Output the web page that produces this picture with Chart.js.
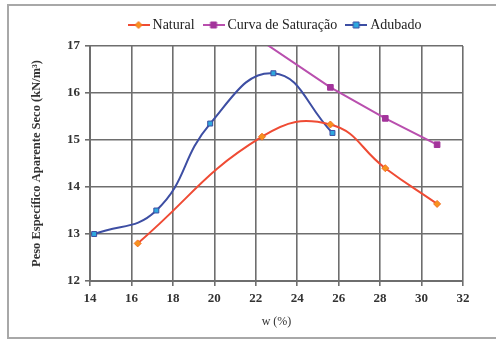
<!DOCTYPE html>
<html>
<head>
<meta charset="utf-8">
<script src="https://cdn.jsdelivr.net/npm/chart.js@4"></script>
<style>
  html, body { margin: 0; padding: 0; background: #fff; }
  #wrap { position: relative; width: 496px; height: 339px; }
  #frame {
    position: absolute; left: 7px; top: 4px; width: 500px; height: 331px;
    border-left: 2px solid #a8a8a8; border-top: 2px solid #a8a8a8; border-bottom: 2px solid #a8a8a8;
  }
  canvas { position: absolute; left: 0; top: 0; }
</style>
</head>
<body>
<div id="wrap">
  <div id="frame"></div>
  <canvas id="chart" width="496" height="339"></canvas>
</div>
<script>
// moisture content (%) and dry unit weight (kN/m³)
const naturalW = [16.3, 22.3, 25.6, 28.25, 30.75];
const naturalGamma = [12.8, 15.07, 15.33, 14.4, 13.64];

const saturacaoW = [22.3, 25.6, 28.25, 30.75];
const saturacaoGamma = [17.1, 16.12, 15.46, 14.9];

const adubadoW = [14.2, 17.2, 19.8, 22.85, 25.7];
const adubadoGamma = [13.0, 13.5, 15.35, 16.42, 15.15];

const xTicks = [14, 16, 18, 20, 22, 24, 26, 28, 30, 32];
const yTicks = [12, 13, 14, 15, 16, 17];

const serif = 'Liberation Serif';
const toXY = (xs, ys) => xs.map((x, i) => ({ x: x, y: ys[i] }));

// little legend swatch: a short line with the marker in the middle
function legendSwatch(lineColor, fill, stroke, shape) {
    const c = document.createElement('canvas');
    c.width = 22; c.height = 10;
    const g = c.getContext('2d');
    g.strokeStyle = lineColor;
    g.lineWidth = 2;
    g.beginPath(); g.moveTo(0, 5); g.lineTo(22, 5); g.stroke();
    g.fillStyle = fill;
    g.strokeStyle = stroke;
    g.lineWidth = 1;
    g.beginPath();
    if (shape === 'diamond') {
        g.moveTo(11, 1.5); g.lineTo(14.5, 5); g.lineTo(11, 8.5); g.lineTo(7.5, 5); g.closePath();
    } else {
        g.rect(8, 2, 6, 6);
    }
    g.fill(); g.stroke();
    return c;
}

const swatches = [
    legendSwatch('#ef4b34', '#f7931e', '#f36f21', 'diamond'),
    legendSwatch('#b94fae', '#a3349b', '#a3349b', 'square'),
    legendSwatch('#3d4ea3', '#2ea8df', '#3d4ea3', 'square')
];

// centre the legend over the plot area instead of the whole canvas
const legendOverPlot = {
    id: 'legendOverPlot',
    afterLayout(chart) {
        const lg = chart.legend;
        const shift = (chart.chartArea.left + chart.chartArea.right) / 2 - (lg.left + lg.right) / 2;
        lg.left += shift;
        lg.right += shift;
        lg.top -= 4;
        lg.bottom -= 4;
    }
};

new Chart(document.getElementById('chart'), {
    type: 'line',
    data: {
        datasets: [{
            label: 'Natural',
            data: toXY(naturalW, naturalGamma),
            borderColor: '#ef4b34',
            borderWidth: 2,
            tension: 0.45,
            pointStyle: 'rectRot',
            pointRadius: 3.5,
            pointBackgroundColor: '#f7931e',
            pointBorderColor: '#f36f21',
            pointBorderWidth: 1
        }, {
            label: 'Curva de Saturação',
            data: toXY(saturacaoW, saturacaoGamma),
            borderColor: '#b94fae',
            borderWidth: 2,
            tension: 0,
            pointStyle: 'rect',
            pointRadius: 4,
            pointBackgroundColor: '#a3349b',
            pointBorderColor: '#a3349b',
            pointBorderWidth: 1
        }, {
            label: 'Adubado',
            data: toXY(adubadoW, adubadoGamma),
            borderColor: '#3d4ea3',
            borderWidth: 2,
            tension: 0.45,
            pointStyle: 'rect',
            pointRadius: 3.5,
            pointBackgroundColor: '#2ea8df',
            pointBorderColor: '#3d4ea3',
            pointBorderWidth: 1
        }]
    },
    plugins: [legendOverPlot],
    options: {
        responsive: false,
        animation: false,
        layout: { padding: { left: 25, right: 33, top: 10, bottom: 6 } },
        plugins: {
            tooltip: { enabled: false },
            legend: {
                position: 'top',
                labels: {
                    usePointStyle: true,
                    color: '#222',
                    font: { family: serif, size: 14 },
                    padding: 12,
                    generateLabels: chart => chart.data.datasets.map((ds, i) => ({
                        text: ds.label,
                        pointStyle: swatches[i],
                        fontColor: '#222',
                        datasetIndex: i,
                        hidden: false,
                        lineWidth: 0
                    }))
                }
            }
        },
        scales: {
            x: {
                type: 'linear',
                min: 14,
                max: 32,
                afterBuildTicks: s => { s.ticks = xTicks.map(v => ({ value: v })); },
                afterFit: s => { s.height = 52; },
                grid: { color: '#6e6e6e', lineWidth: 1.6, tickLength: 5, tickColor: '#6e6e6e' },
                border: { color: '#6e6e6e', width: 2 },
                ticks: { color: '#333', font: { family: serif, size: 13, weight: 'bold' }, padding: 5 },
                title: { display: true, text: 'w (%)', color: '#333', font: { family: serif, size: 12 }, padding: { top: 3 } }
            },
            y: {
                min: 12,
                max: 17,
                afterBuildTicks: s => { s.ticks = yTicks.map(v => ({ value: v })); },
                afterFit: s => { s.width = 65; },
                grid: { color: '#6e6e6e', lineWidth: 1.6, tickLength: 5, tickColor: '#6e6e6e' },
                border: { color: '#6e6e6e', width: 2 },
                ticks: { color: '#333', font: { family: serif, size: 13, weight: 'bold' }, padding: 5 },
                title: { display: true, text: 'Peso Específico Aparente Seco (kN/m³)', color: '#333', font: { family: serif, size: 12.5, weight: 'bold' }, padding: { bottom: 6 } }
            }
        }
    }
});
</script>
</body>
</html>
